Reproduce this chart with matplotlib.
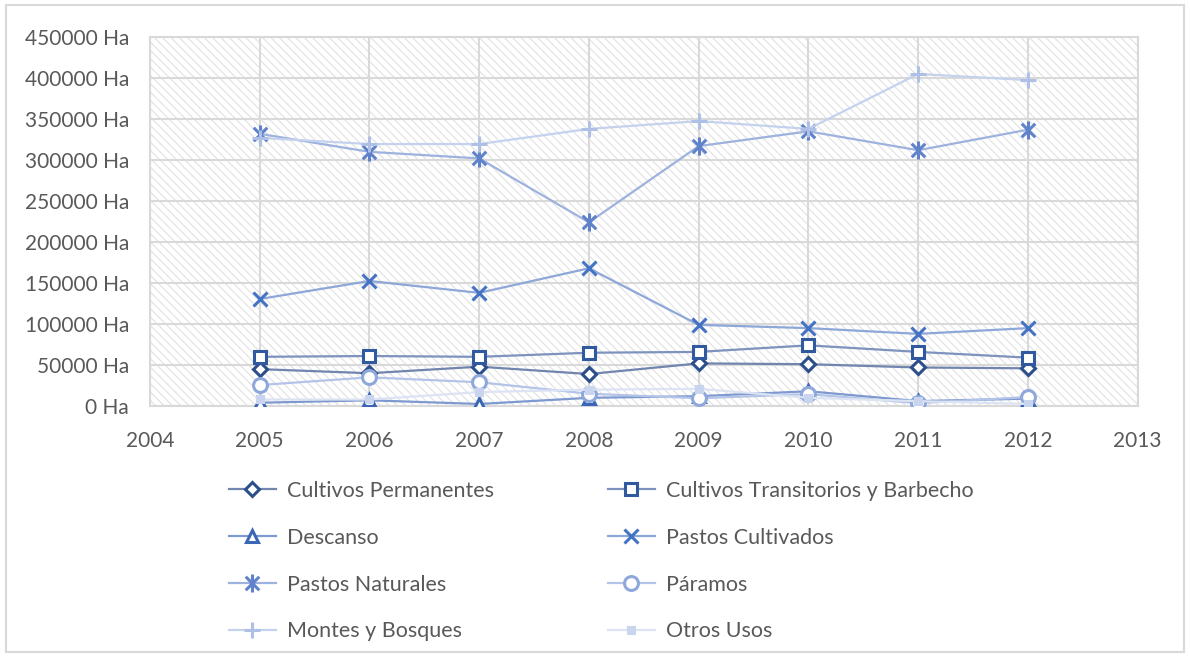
import matplotlib.pyplot as plt
from matplotlib.patches import Rectangle
from matplotlib.path import Path
from matplotlib.ticker import FuncFormatter

plt.rcParams['font.family'] = ['Lato', 'DejaVu Sans']
plt.rcParams['hatch.linewidth'] = 0.9

# Datos (hectáreas por año)
anios = [2005, 2006, 2007, 2008, 2009, 2010, 2011, 2012]
cultivos_permanentes = [45000, 40000, 48000, 39000, 52000, 51000, 47000, 46000]
cultivos_transitorios = [60000, 61000, 60000, 65000, 66000, 74000, 66000, 59000]
descanso = [4000, 7000, 2500, 10000, 12000, 18000, 6000, 9000]
pastos_cultivados = [130500, 152500, 138000, 168000, 99000, 95000, 88000, 95000]
pastos_naturales = [332000, 310000, 302000, 224000, 317000, 335000, 312000, 337000]
paramos = [25600, 35000, 29000, 15000, 9500, 14500, 3500, 11000]
montes_bosques = [327000, 319500, 319500, 338000, 347500, 338000, 405000, 397500]
otros_usos = [8000, 8000, 17000, 20000, 21000, 10000, 6000, 2500]

# marcador tipo estrella de Excel (x con barra vertical)
estrella = Path([(0, -1), (0, 1), (-0.75, -0.75), (0.75, 0.75), (-0.75, 0.75), (0.75, -0.75)],
                [Path.MOVETO, Path.LINETO, Path.MOVETO, Path.LINETO, Path.MOVETO, Path.LINETO])

series = [
    ('Cultivos Permanentes', cultivos_permanentes, 'D', '#2C4F8C', '#7285AE', 7),
    ('Cultivos Transitorios y Barbecho', cultivos_transitorios, 's', '#3159A0', '#7D93BE', 9),
    ('Descanso', descanso, '^', '#3A66B5', '#7E99CF', 9),
    ('Pastos Cultivados', pastos_cultivados, 'x', '#4472C4', '#8EA7D9', 10),
    ('Pastos Naturales', pastos_naturales, estrella, '#5F82CB', '#9DB2DF', 13),
    ('Páramos', paramos, 'o', '#8EA8DB', '#B3C4E8', 10),
    ('Montes y Bosques', montes_bosques, '+', '#AFC0E6', '#C5D2EE', 11),
    ('Otros Usos', otros_usos, 's', '#C9D5EE', '#DCE3F3', 5),
]

fig = plt.figure(figsize=(11.9, 6.57), dpi=100)
ax = fig.add_axes([0.126, 0.382, 0.830, 0.5616])

# fondo rayado
ax.add_patch(Rectangle((0, 0), 1, 1, transform=ax.transAxes, facecolor='white',
                       edgecolor='#E4E4E4', hatch='\\\\\\\\', linewidth=0, zorder=0))

lineas = []
for nombre, valores, marcador, c_marca, c_linea, tam in series:
    relleno = 'white'
    if nombre == 'Otros Usos':
        relleno = c_marca
    l, = ax.plot(anios, valores, color=c_linea, linewidth=1.6, marker=marcador,
                 markersize=tam, markeredgecolor=c_marca, markerfacecolor=relleno,
                 markeredgewidth=2.2, label=nombre, zorder=3)
    lineas.append(l)

ax.set_xlim(2004, 2013)
ax.set_ylim(0, 450000)
ax.set_xticks(range(2004, 2014))
ax.set_yticks(range(0, 450001, 50000))
ax.yaxis.set_major_formatter(FuncFormatter(lambda v, p: f'{int(v)} Ha'))
ax.grid(True, color='#D9D9D9', linewidth=1.5, zorder=1)
ax.set_axisbelow(True)
ax.tick_params(length=0, labelsize=15, colors='#595959')
ax.tick_params(axis='y', pad=15)
ax.tick_params(axis='x', pad=18)
for s in ax.spines.values():
    s.set_color('#D9D9D9')
    s.set_linewidth(1.5)

# leyenda llenada por filas
orden = [0, 2, 4, 6, 1, 3, 5, 7]
ax.legend([lineas[i] for i in orden], [lineas[i].get_label() for i in orden],
          loc='upper left', bbox_to_anchor=(0.06, -0.15), ncol=2, frameon=False,
          fontsize=15.5, labelcolor='#595959', handlelength=2.2, handletextpad=0.5,
          columnspacing=5.3, labelspacing=1.25)

fig.add_artist(Rectangle((0.005, 0.008), 0.99, 0.984, transform=fig.transFigure,
                         fill=False, edgecolor='#D9D9D9', linewidth=1.5))

fig.savefig('out.png', dpi=100)
